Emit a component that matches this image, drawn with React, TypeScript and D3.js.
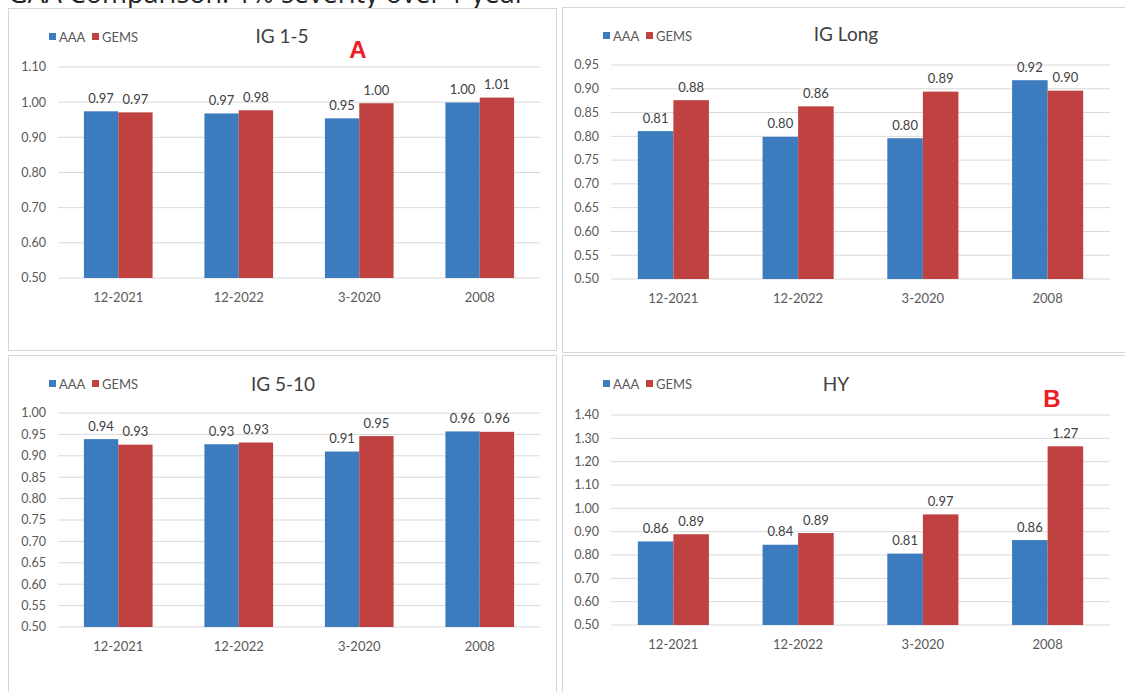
import React from "react";
import * as d3 from "d3";

const categories = ["12-2021", "12-2022", "3-2020", "2008"];
const series = ["AAA", "GEMS"];
const colors = ["#3D7BBF", "#BF4240"];

const ig15AAA = [0.974, 0.968, 0.954, 0.999];
const ig15GEMS = [0.971, 0.977, 0.997, 1.013];
const igLongAAA = [0.811, 0.799, 0.796, 0.918];
const igLongGEMS = [0.876, 0.863, 0.894, 0.896];
const ig510AAA = [0.939, 0.927, 0.91, 0.957];
const ig510GEMS = [0.926, 0.931, 0.946, 0.956];
const hyAAA = [0.858, 0.844, 0.806, 0.864];
const hyGEMS = [0.889, 0.894, 0.974, 1.266];

const ticks110 = [0.5, 0.6, 0.7, 0.8, 0.9, 1.0, 1.1];
const ticks095 = [0.5, 0.55, 0.6, 0.65, 0.7, 0.75, 0.8, 0.85, 0.9, 0.95];
const ticks100 = [0.5, 0.55, 0.6, 0.65, 0.7, 0.75, 0.8, 0.85, 0.9, 0.95, 1.0];
const ticks140 = [0.5, 0.6, 0.7, 0.8, 0.9, 1.0, 1.1, 1.2, 1.3, 1.4];

const FONT = "Lato, 'Open Sans', sans-serif";

type PanelProps = {
  title: string;
  aaa: number[];
  gems: number[];
  ticks: number[];
  box: [number, number, number, number];
  xr: [number, number];
  yr: [number, number];
  legendX: number;
  legendY: number;
  titleX: number;
  titleY: number;
  mark?: { text: string; x: number; y: number };
};

function Panel(p: PanelProps) {
  const dom: [number, number] = [p.ticks[0], p.ticks[p.ticks.length - 1]];
  const y = d3.scaleLinear().domain(dom).range(p.yr);
  const x = d3.scaleBand<string>().domain(categories).range(p.xr).paddingInner(0.43).paddingOuter(0.215);
  const xs = d3.scaleBand<string>().domain(series).range([0, x.bandwidth()]);
  const vals = [p.aaa, p.gems];
  const [bx, by, bw, bh] = p.box;
  return (
    <g>
      <rect x={bx + 0.5} y={by + 0.5} width={bw} height={bh} fill="#fff" stroke="#D6D6D6" />
      {p.ticks.map((t) => (
        <g key={t}>
          <line x1={p.xr[0]} x2={p.xr[1]} y1={y(t)} y2={y(t)} stroke="#D9D9D9" strokeWidth={1} />
          <text x={p.xr[0] - 12} y={y(t)} dy="0.35em" textAnchor="end" fontSize={12.5} fill="#595959" fontFamily={FONT}>
            {t.toFixed(2)}
          </text>
        </g>
      ))}
      {categories.map((c, i) => (
        <g key={c}>
          {series.map((s, j) => {
            const v = vals[j][i];
            const x0 = (x(c) as number) + (xs(s) as number);
            return (
              <g key={s}>
                <rect x={x0} y={y(v)} width={xs.bandwidth()} height={y(dom[0]) - y(v)} fill={colors[j]} />
                <text x={x0 + xs.bandwidth() / 2} y={y(v) - 13} dy="0.35em" textAnchor="middle" fontSize={13} fill="#404040" fontFamily={FONT}>
                  {v.toFixed(2)}
                </text>
              </g>
            );
          })}
          <text x={(x(c) as number) + x.bandwidth() / 2} y={y(dom[0]) + 19} dy="0.35em" textAnchor="middle" fontSize={13} fill="#595959" fontFamily={FONT}>
            {c}
          </text>
        </g>
      ))}
      {series.map((s, j) => (
        <g key={s} transform={`translate(${p.legendX + j * 43},${p.legendY})`}>
          <rect x={0} y={-4} width={7} height={7} fill={colors[j]} />
          <text x={10} y={0} dy="0.35em" fontSize={13} fill="#595959" fontFamily={FONT}>
            {s}
          </text>
        </g>
      ))}
      <text x={p.titleX} y={p.titleY} dy="0.35em" textAnchor="middle" fontSize={19} fill="#404040" fontFamily={FONT}>
        {p.title}
      </text>
      {p.mark && (
        <text x={p.mark.x} y={p.mark.y} dy="0.35em" textAnchor="middle" fontSize={24} fontWeight="bold" fill="#EE1C25" fontFamily="'Liberation Sans', Arial, sans-serif">
          {p.mark.text}
        </text>
      )}
    </g>
  );
}

export default function App() {
  return (
    <svg width={1125} height={692} style={{ position: "absolute", left: 0, top: 0, background: "#fff" }}>
      <rect width={1125} height={692} fill="#fff" />
      <text x={8} y={3} fontSize={27} fill="#222" fontFamily="'Open Sans', sans-serif">
        GAA Comparison: 1% severity over 1 year
      </text>
      <Panel title="IG 1-5" aaa={ig15AAA} gems={ig15GEMS} ticks={ticks110} box={[8, 8, 548, 342]} xr={[58, 540]} yr={[278, 67]} legendX={49} legendY={37} titleX={282} titleY={36} mark={{ text: "A", x: 358, y: 50 }} />
      <Panel title="IG Long" aaa={igLongAAA} gems={igLongGEMS} ticks={ticks095} box={[562, 7, 580, 345]} xr={[611, 1110]} yr={[279, 65]} legendX={603} legendY={36} titleX={846} titleY={34} />
      <Panel title="IG 5-10" aaa={ig510AAA} gems={ig510GEMS} ticks={ticks100} box={[8, 355, 548, 360]} xr={[58, 540]} yr={[627, 413]} legendX={49} legendY={384} titleX={283} titleY={384} />
      <Panel title="HY" aaa={hyAAA} gems={hyGEMS} ticks={ticks140} box={[562, 355, 580, 360]} xr={[611, 1110]} yr={[625, 415]} legendX={603} legendY={384} titleX={836} titleY={384} mark={{ text: "B", x: 1052, y: 399 }} />
    </svg>
  );
}
